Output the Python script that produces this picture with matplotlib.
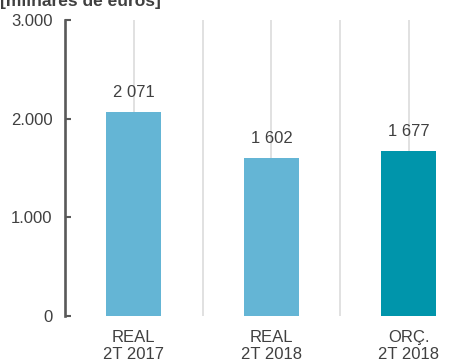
import matplotlib.pyplot as plt
from matplotlib.ticker import FuncFormatter

plt.rcParams['font.family'] = ['Liberation Sans', 'DejaVu Sans']

categorias = ['REAL\n2T 2017', 'REAL\n2T 2018', 'ORÇ.\n2T 2018']
valores = [2071, 1602, 1677]
cores = ['#64b5d5', '#64b5d5', '#0095ab']

fig = plt.figure(figsize=(4.75, 3.63), dpi=100)
ax = fig.add_axes([65 / 475, 1 - 316 / 363, 1 - 65 / 475, (316 - 20) / 363])

x = range(len(valores))
ax.bar(x, valores, width=0.4, color=cores, zorder=2)

# grelha vertical nas barras e entre elas
for g in [0, 0.5, 1, 1.5, 2]:
    ax.axvline(g, color='#d9d9d9', lw=1.1, zorder=1)

for i, v in enumerate(valores):
    txt = f'{v:,}'.replace(',', ' ')
    ax.text(i, v + 195, txt, ha='center', va='center', fontsize=12, color='#404040')

ax.set_xlim(-0.5, 2.48)
ax.set_ylim(0, 3000)
ax.set_yticks([0, 1000, 2000, 3000])
ax.yaxis.set_major_formatter(FuncFormatter(lambda v, p: f'{int(v):,}'.replace(',', '.')))
ax.set_xticks(list(x))
ax.set_xticklabels(categorias, fontsize=12, color='#404040', linespacing=1.2)

for s in ['top', 'right', 'bottom']:
    ax.spines[s].set_visible(False)
ax.spines['left'].set_color('#595959')
ax.spines['left'].set_linewidth(1.9)
ax.tick_params(axis='y', direction='in', length=4.5, width=1.5, color='#595959',
               labelsize=12, labelcolor='#404040', pad=9)
ax.tick_params(axis='x', length=0, pad=10)

fig.text(0.0, 1 - 6 / 363, '[milhares de euros]', fontsize=12.5, fontweight='bold',
         color='#404040', ha='left', va='baseline')

fig.savefig('out.png', dpi=100)
